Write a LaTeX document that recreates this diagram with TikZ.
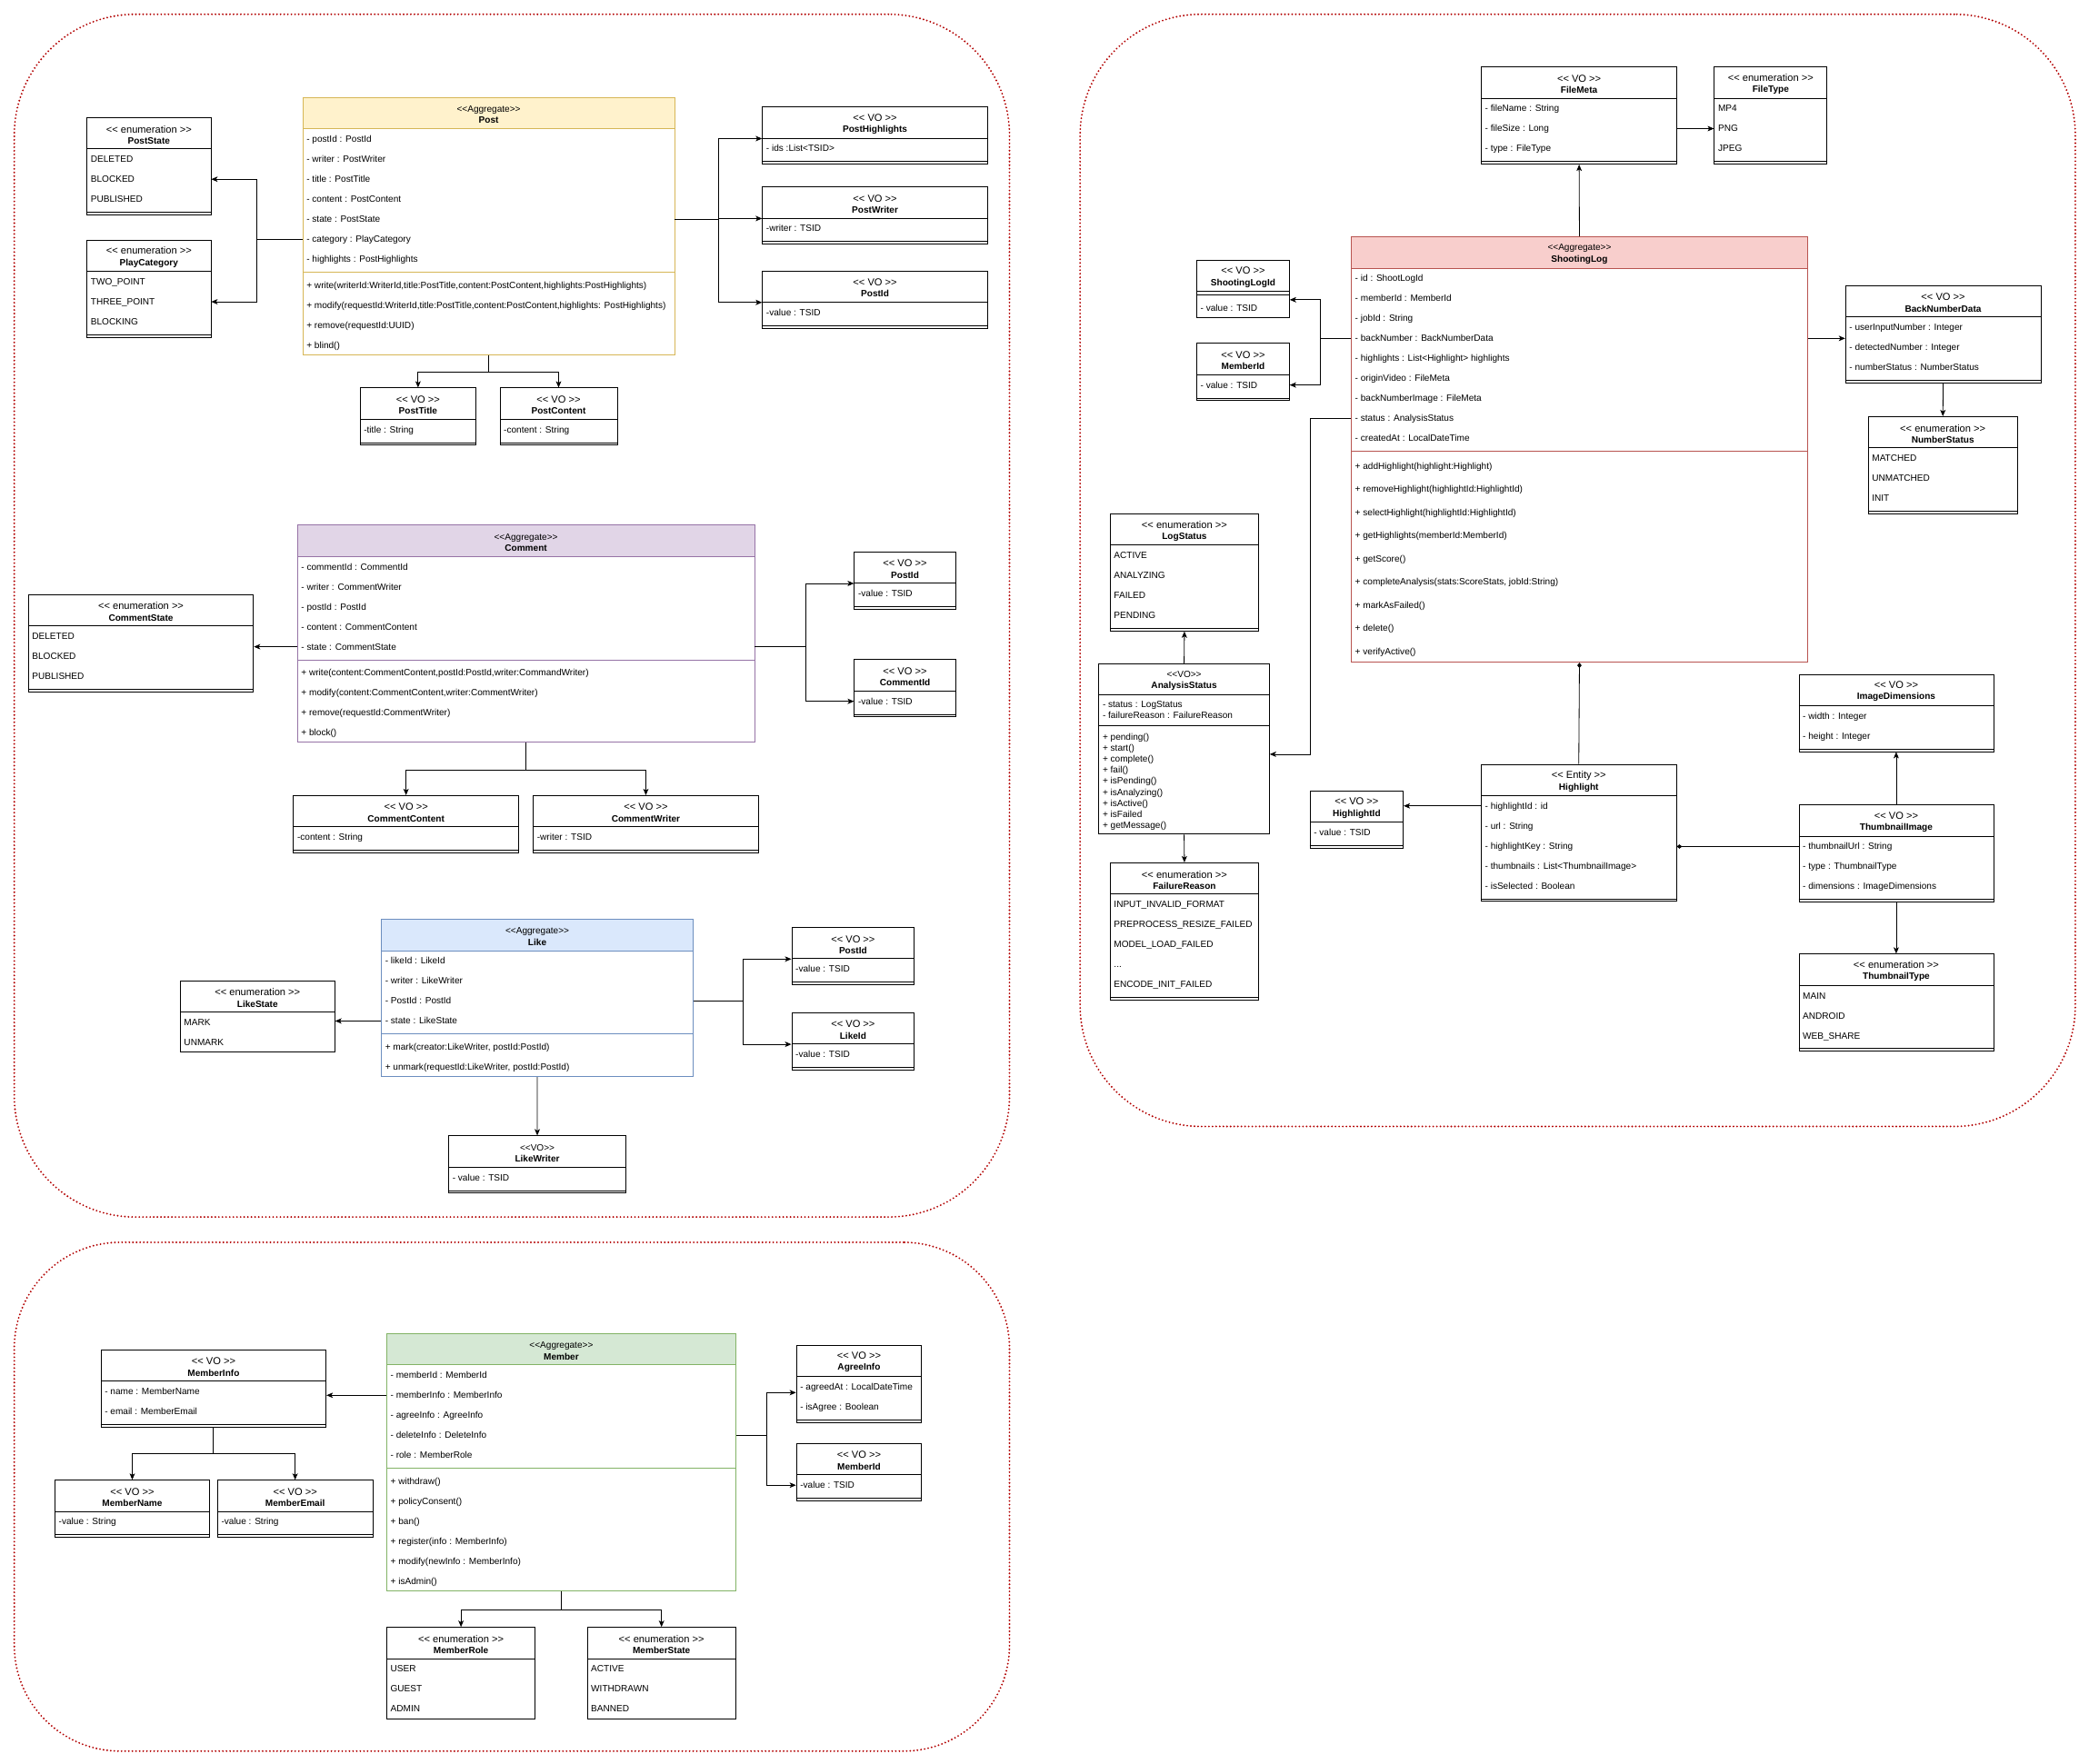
\documentclass[tikz,border=0pt]{standalone}
\usepackage{fontspec}
\newfontfamily\umlfont{Liberation Sans}
\usetikzlibrary{arrows.meta, calc}
\definecolor{regionred}{HTML}{B20000}
\definecolor{postfill}{HTML}{FFF2CC}
\definecolor{postline}{HTML}{D6B656}
\definecolor{commentfill}{HTML}{E1D5E7}
\definecolor{commentline}{HTML}{9673A6}
\definecolor{likefill}{HTML}{DAE8FC}
\definecolor{likeline}{HTML}{6C8EBF}
\definecolor{memberfill}{HTML}{D5E8D4}
\definecolor{memberline}{HTML}{82B366}
\definecolor{shootfill}{HTML}{F8CECC}
\definecolor{shootline}{HTML}{B85450}
\tikzset{
umlbox/.style={draw, fill=white, anchor=north west, inner sep=0pt, line width=0.7pt},
umlhead/.style={draw, anchor=north west, inner sep=0pt, line width=0.7pt, minimum height=23.5*0.044cm},
umltitle/.style={inner sep=0pt, align=center, font=\umlfont\fontsize{8.6}{10.6}\selectfont},
umlrow/.style={anchor=west, inner sep=0pt, text height=7.7pt, text depth=1.8pt, font=\umlfont\fontsize{8.6}{10}\selectfont},
umlline/.style={line width=0.7pt},
vo/.style={}, voh/.style={},
aggpost/.style={draw=postline}, aggposth/.style={draw=postline, fill=postfill},
aggcomment/.style={draw=commentline}, aggcommenth/.style={draw=commentline, fill=commentfill},
agglike/.style={draw=likeline}, agglikeh/.style={draw=likeline, fill=likefill},
aggmember/.style={draw=memberline}, aggmemberh/.style={draw=memberline, fill=memberfill},
aggshoot/.style={draw=shootline}, aggshooth/.style={draw=shootline, fill=shootfill},
arr/.style={line width=0.7pt, -{Stealth[length=6pt, width=5pt, inset=1.5pt]}},
comp/.style={line width=0.7pt, -{Diamond[length=5pt, width=4pt]}},
region/.style={draw=regionred, line width=1.8pt, line cap=round, dash pattern=on 0pt off 3.4pt, rounded corners=4cm, anchor=north west, inner sep=0pt}}
% class box: name, x, y, width, height, style, header
\newcommand{\umlclass}[7]{%
  \node[umlbox, #6, minimum width=#4*0.044cm, minimum height=#5*0.044cm] (#1) at (#2,#3) {};
  \node[umlhead, #6h, minimum width=#4*0.044cm] (#1-h) at (#2,#3) {};
  \node[umltitle] (#1-t) at ($(#1-h.center)+(0,1.2)$) {#7};}
% rows: name, prefix, first offset, pitch, list
\newcommand{\umlrows}[5]{%
  \foreach \txt [count=\i] in {#5}
    \node[umlrow] (#1-#2\i) at ($(#1-h.south west)+(3,#3+#4*\i-#4)$) {\txt};}
\newcommand{\umlsep}[3][]{\draw[umlline,#1] ($(#2.south west)+(0,#3)$) -- ($(#2.south east)+(0,#3)$);}
\newcommand{\stereo}[1]{{\fontsize{9.5}{10.6}\selectfont #1}}
\newcommand{\vohead}[1]{\stereo{<< VO >>}\\\textbf{#1}}
\newcommand{\enumhead}[1]{\stereo{<< enumeration >>}\\\textbf{#1}}
\newcommand{\aggrhead}[1]{<<Aggregate>>\\\textbf{#1}}

\begin{document}
\begin{tikzpicture}[x=0.044cm, y=-0.044cm]
\useasboundingbox (0,0) rectangle (1568,1324);

% contexts
\node[region, minimum width=747*0.044cm, minimum height=903*0.044cm] (ctxPost) at (10,10) {};
\node[region, minimum width=747*0.044cm, minimum height=835*0.044cm] (ctxShoot) at (810,10) {};
\node[region, rounded corners=3.5cm, minimum width=747*0.044cm, minimum height=382*0.044cm] (ctxMember) at (10,932) {};

% post
\umlclass{Post}{227}{73}{279}{193}{aggpost}{\aggrhead{Post}}
\umlrows{Post}{}{7.5}{15}{- postId : PostId, - writer : PostWriter, - title : PostTitle, - content : PostContent, - state : PostState, - category : PlayCategory, - highlights : PostHighlights}
\umlsep[aggpost]{Post-h}{107.25}
\umlrows{Post}{m}{117}{15}{{+ write(writerId:WriterId,title:PostTitle,content:PostContent,highlights:PostHighlights)}, {+ modify(requestId:WriterId,title:PostTitle,content:PostContent,highlights: PostHighlights)}, + remove(requestId:UUID), + blind()}
\umlclass{PostState}{65}{88}{93}{73}{vo}{\enumhead{PostState}}
\umlrows{PostState}{}{7.5}{15}{DELETED, BLOCKED, PUBLISHED}
\umlclass{PlayCategory}{65}{180}{93}{73}{vo}{\enumhead{PlayCategory}}
\umlrows{PlayCategory}{}{7.5}{15}{TWO\_POINT, THREE\_POINT, BLOCKING}
\umlclass{PostHighlights}{572}{80}{169}{43}{vo}{\vohead{PostHighlights}}
\umlrows{PostHighlights}{}{7.5}{15}{- ids :List<TSID>}
\umlclass{PostWriter}{572}{140}{169}{43}{vo}{\vohead{PostWriter}}
\umlrows{PostWriter}{}{7.5}{15}{-writer : TSID}
\umlclass{PostIdP}{572}{203}{169}{43}{vo}{\vohead{PostId}}
\umlrows{PostIdP}{}{7.5}{15}{-value : TSID}
\umlclass{PostTitle}{270}{291}{87}{43}{vo}{\vohead{PostTitle}}
\umlrows{PostTitle}{}{7.5}{15}{-title : String}
\umlclass{PostContent}{375}{291}{88}{43}{vo}{\vohead{PostContent}}
\umlrows{PostContent}{}{7.5}{15}{-content : String}

% comment
\umlclass{Comment}{223}{394}{343}{163}{aggcomment}{\aggrhead{Comment}}
\umlrows{Comment}{}{7.5}{15}{- commentId : CommentId, - writer : CommentWriter, - postId : PostId, - content : CommentContent, - state : CommentState}
\umlsep[aggcomment]{Comment-h}{77.25}
\umlrows{Comment}{m}{87}{15}{{+ write(content:CommentContent,postId:PostId,writer:CommandWriter)}, {+ modify(content:CommentContent,writer:CommentWriter)}, + remove(requestId:CommentWriter), + block()}
\umlclass{CommentState}{21}{446}{169}{73}{vo}{\enumhead{CommentState}}
\umlrows{CommentState}{}{7.5}{15}{DELETED, BLOCKED, PUBLISHED}
\umlclass{PostIdC}{641}{414}{76}{43}{vo}{\vohead{PostId}}
\umlrows{PostIdC}{}{7.5}{15}{-value : TSID}
\umlclass{CommentId}{641}{495}{76}{43}{vo}{\vohead{CommentId}}
\umlrows{CommentId}{}{7.5}{15}{-value : TSID}
\umlclass{CommentContent}{220}{597}{169}{43}{vo}{\vohead{CommentContent}}
\umlrows{CommentContent}{}{7.5}{15}{-content : String}
\umlclass{CommentWriter}{400}{597}{169}{43}{vo}{\vohead{CommentWriter}}
\umlrows{CommentWriter}{}{7.5}{15}{-writer : TSID}

% like
\umlclass{Like}{286}{690}{234}{118}{agglike}{\aggrhead{Like}}
\umlrows{Like}{}{7.5}{15}{- likeId : LikeId, - writer : LikeWriter, - PostId : PostId, - state : LikeState}
\umlsep[agglike]{Like-h}{62.25}
\umlrows{Like}{m}{72}{15}{{+ mark(creator:LikeWriter, postId:PostId)}, {+ unmark(requestId:LikeWriter, postId:PostId)}}
\umlclass{LikeState}{135}{736}{116}{53.5}{vo}{\enumhead{LikeState}}
\umlrows{LikeState}{}{7.5}{15}{MARK, UNMARK}
\umlclass{PostIdL}{594}{696}{92}{43}{vo}{\vohead{PostId}}
\umlrows{PostIdL}{}{7.5}{15}{-value : TSID}
\umlclass{LikeId}{594}{760}{92}{43}{vo}{\vohead{LikeId}}
\umlrows{LikeId}{}{7.5}{15}{-value : TSID}
\umlclass{LikeWriter}{336.5}{852.5}{133}{43}{vo}{<<VO>>\\\textbf{LikeWriter}}
\umlrows{LikeWriter}{}{7.5}{15}{- value : TSID}

% member
\umlclass{Member}{290}{1001}{262}{193}{aggmember}{\aggrhead{Member}}
\umlrows{Member}{}{7.5}{15}{- memberId : MemberId, - memberInfo : MemberInfo, - agreeInfo : AgreeInfo, - deleteInfo : DeleteInfo, - role : MemberRole}
\umlsep[aggmember]{Member-h}{77.25}
\umlrows{Member}{m}{87}{15}{+ withdraw(), + policyConsent(), + ban(), + register(info : MemberInfo), + modify(newInfo : MemberInfo), + isAdmin()}
\umlclass{MemberInfo}{75.5}{1013}{169}{58}{vo}{\vohead{MemberInfo}}
\umlrows{MemberInfo}{}{7.5}{15}{- name : MemberName, - email : MemberEmail}
\umlclass{MemberName}{41}{1111}{116}{43}{vo}{\vohead{MemberName}}
\umlrows{MemberName}{}{7.5}{15}{-value : String}
\umlclass{MemberEmail}{163}{1111}{116.5}{43}{vo}{\vohead{MemberEmail}}
\umlrows{MemberEmail}{}{7.5}{15}{-value : String}
\umlclass{AgreeInfo}{597.5}{1009.5}{94}{58}{vo}{\vohead{AgreeInfo}}
\umlrows{AgreeInfo}{}{7.5}{15}{- agreedAt : LocalDateTime, - isAgree : Boolean}
\umlclass{MemberIdM}{597.5}{1083.5}{94}{43}{vo}{\vohead{MemberId}}
\umlrows{MemberIdM}{}{7.5}{15}{-value : TSID}
\umlclass{MemberRole}{290}{1221.5}{111.5}{68.5}{vo}{\enumhead{MemberRole}}
\umlrows{MemberRole}{}{7.5}{15}{USER, GUEST, ADMIN}
\umlclass{MemberState}{440.5}{1221.5}{111.5}{68.5}{vo}{\enumhead{MemberState}}
\umlrows{MemberState}{}{7.5}{15}{ACTIVE, WITHDRAWN, BANNED}

% shooting log
\umlclass{ShootingLog}{1014}{177.5}{342.5}{319.5}{aggshoot}{\aggrhead{ShootingLog}}
\umlrows{ShootingLog}{}{7.5}{15}{- id : ShootLogId, - memberId : MemberId, - jobId : String, - backNumber : BackNumberData, - highlights : List<Highlight> highlights, - originVideo : FileMeta, - backNumberImage : FileMeta, - status : AnalysisStatus, - createdAt : LocalDateTime}
\umlsep[aggshoot]{ShootingLog-h}{137.25}
\umlrows{ShootingLog}{m}{148.2}{17.4}{+ addHighlight(highlight:Highlight), + removeHighlight(highlightId:HighlightId), + selectHighlight(highlightId:HighlightId), + getHighlights(memberId:MemberId), + getScore(), {+ completeAnalysis(stats:ScoreStats, jobId:String)}, + markAsFailed(), + delete(), + verifyActive()}
\umlclass{FileMeta}{1111.5}{50}{147}{73}{vo}{\vohead{FileMeta}}
\umlrows{FileMeta}{}{7.5}{15}{- fileName : String, - fileSize : Long, - type : FileType}
\umlclass{FileType}{1286.5}{50}{84.5}{73}{vo}{\enumhead{FileType}}
\umlrows{FileType}{}{7.5}{15}{MP4, PNG, JPEG}
\umlclass{ShootingLogId}{898}{195}{69.5}{43}{vo}{\vohead{ShootingLogId}}
\umlsep{ShootingLogId-h}{2.25}
\umlrows{ShootingLogId}{}{12}{15}{- value : TSID}
\umlclass{MemberIdS}{898}{257.5}{69.5}{43}{vo}{\vohead{MemberId}}
\umlrows{MemberIdS}{}{7.5}{15}{- value : TSID}
\umlclass{BackNumberData}{1385}{214}{146.5}{73}{vo}{\vohead{BackNumberData}}
\umlrows{BackNumberData}{}{7.5}{15}{- userInputNumber : Integer, - detectedNumber : Integer, - numberStatus : NumberStatus}
\umlclass{NumberStatus}{1402}{312.5}{112}{73}{vo}{\enumhead{NumberStatus}}
\umlrows{NumberStatus}{}{7.5}{15}{MATCHED, UNMATCHED, INIT}
\umlclass{LogStatus}{833}{385.5}{111.5}{88}{vo}{\enumhead{LogStatus}}
\umlrows{LogStatus}{}{7.5}{15}{ACTIVE, ANALYZING, FAILED, PENDING}
\umlclass{AnalysisStatus}{824.5}{498}{128}{128}{vo}{<<VO>>\\\textbf{AnalysisStatus}}
\umlrows{AnalysisStatus}{}{7}{8.3}{- status : LogStatus, - failureReason : FailureReason}
\umlsep{AnalysisStatus-h}{23}
\umlrows{AnalysisStatus}{m}{31}{8.35}{+ pending(), + start(), + complete(), + fail(), + isPending(), + isAnalyzing(), + isActive(), + isFailed, + getMessage()}
\umlclass{FailureReason}{833}{647.5}{111.5}{103}{vo}{\enumhead{FailureReason}}
\umlrows{FailureReason}{}{7.5}{15}{INPUT\_INVALID\_FORMAT, PREPROCESS\_RESIZE\_FAILED, MODEL\_LOAD\_FAILED, {.{}.{}.}, ENCODE\_INIT\_FAILED}
\umlclass{HighlightId}{983}{593.5}{70}{43}{vo}{\vohead{HighlightId}}
\umlrows{HighlightId}{}{7.5}{15}{- value : TSID}
\umlclass{Highlight}{1111.5}{573.5}{146.5}{103}{vo}{\stereo{<< Entity >>}\\\textbf{Highlight}}
\umlrows{Highlight}{}{7.5}{15}{- highlightId : id, - url : String, - highlightKey : String, - thumbnails : List<ThumbnailImage>, - isSelected : Boolean}
\umlclass{ImageDimensions}{1350}{506}{146}{58}{vo}{\vohead{ImageDimensions}}
\umlrows{ImageDimensions}{}{7.5}{15}{- width : Integer, - height : Integer}
\umlclass{ThumbnailImage}{1350}{604}{146}{73}{vo}{\vohead{ThumbnailImage}}
\umlrows{ThumbnailImage}{}{7.5}{15}{- thumbnailUrl : String, - type : ThumbnailType, - dimensions : ImageDimensions}
\umlclass{ThumbnailType}{1350}{716}{146}{73}{vo}{\enumhead{ThumbnailType}}
\umlrows{ThumbnailType}{}{7.5}{15}{MAIN, ANDROID, WEB\_SHARE}

% closing double lines
\foreach \nm in {PostState, PlayCategory, PostHighlights, PostWriter, PostIdP, PostTitle, PostContent, CommentState, PostIdC, CommentId, CommentContent, CommentWriter, PostIdL, LikeId, LikeWriter, MemberInfo, MemberName, MemberEmail, AgreeInfo, MemberIdM, FileMeta, FileType, MemberIdS, BackNumberData, NumberStatus, LogStatus, FailureReason, HighlightId, Highlight, ImageDimensions, ThumbnailImage, ThumbnailType} {\umlsep{\nm}{-2.25}}

% post links
\draw[arr] (Post-6 -| Post.west) -- ++(-34,0) |- (PostState-2 -| PostState.east);
\draw[arr] (Post-6 -| Post.west) -- ++(-34,0) |- (PlayCategory-2 -| PlayCategory.east);
\foreach \target in {PostHighlights, PostWriter, PostIdP}
  \draw[arr] (Post-5 -| Post.east) -- ++(33,0) |- (\target-h.south west);
\foreach \target in {PostTitle, PostContent}
  \draw[arr] (Post.south) -- ++(0,13) -| (\target.north);

% comment links
\draw[arr] (Comment-5 -| Comment.west) -- (Comment-5 -| CommentState.east);
\draw[arr] (Comment-5 -| Comment.east) -- ++(38,0) |- (PostIdC-h.south west);
\draw[arr] (Comment-5 -| Comment.east) -- ++(38,0) |- (CommentId-1 -| CommentId.west);
\foreach \target in {CommentContent, CommentWriter}
  \draw[arr] (Comment.south) -- ++(0,20.5) -| (\target.north);

% like links
\draw[arr] (Like-4 -| Like.west) -- (Like-4 -| LikeState.east);
\foreach \target in {PostIdL, LikeId}
  \draw[arr] (Like-3 -| Like.east) -- ++(37,0) |- (\target-h.south west);
\draw[arr] (Like.south) -- (LikeWriter.north);

% member links
\draw[arr] (Member-2 -| Member.west) -- (Member-2 -| MemberInfo.east);
\foreach \target in {MemberName, MemberEmail}
  \draw[arr] (MemberInfo.south) -- ++(0,20) -| (\target.north);
\draw[arr] (Member-4 -| Member.east) -- ++(23,0) |- ($(AgreeInfo-h.south west)+(0,12)$);
\draw[arr] (Member-4 -| Member.east) -- ++(23,0) |- (MemberIdM-1 -| MemberIdM.west);
\foreach \target in {MemberRole, MemberState}
  \draw[arr] (Member.south) -- ++(0,14) -| (\target.north);

% shooting log links
\draw[arr] (ShootingLog.north) -- (FileMeta.south);
\draw[arr] (FileMeta-2 -| FileMeta.east) -- (FileMeta-2 -| FileType.west);
\draw[arr] (ShootingLog-4 -| ShootingLog.west) -- ++(-23,0) |- ($(ShootingLogId-h.south east)+(0,6)$);
\draw[arr] (ShootingLog-4 -| ShootingLog.west) -- ++(-23,0) |- (MemberIdS-1 -| MemberIdS.east);
\draw[arr] (ShootingLog-4 -| ShootingLog.east) -- (ShootingLog-4 -| BackNumberData.west);
\draw[arr] (BackNumberData.south) -- (NumberStatus.north);
\draw[arr] (ShootingLog-8 -| ShootingLog.west) -- ++(-30.5,0) |- ($(AnalysisStatus.east)+(0,4)$);
\draw[arr] (AnalysisStatus.north) -- (LogStatus.south);
\draw[arr] (AnalysisStatus.south) -- (FailureReason.north);
\draw[arr] (Highlight-1 -| Highlight.west) -- (Highlight-1 -| HighlightId.east);
\draw[comp] (Highlight.north) -- (ShootingLog.south);
\draw[comp] (ThumbnailImage-1 -| ThumbnailImage.west) -- (ThumbnailImage-1 -| Highlight.east);
\draw[arr] (ThumbnailImage.north) -- (ImageDimensions.south);
\draw[arr] (ThumbnailImage.south) -- (ThumbnailType.north);
\end{tikzpicture}
\end{document}
